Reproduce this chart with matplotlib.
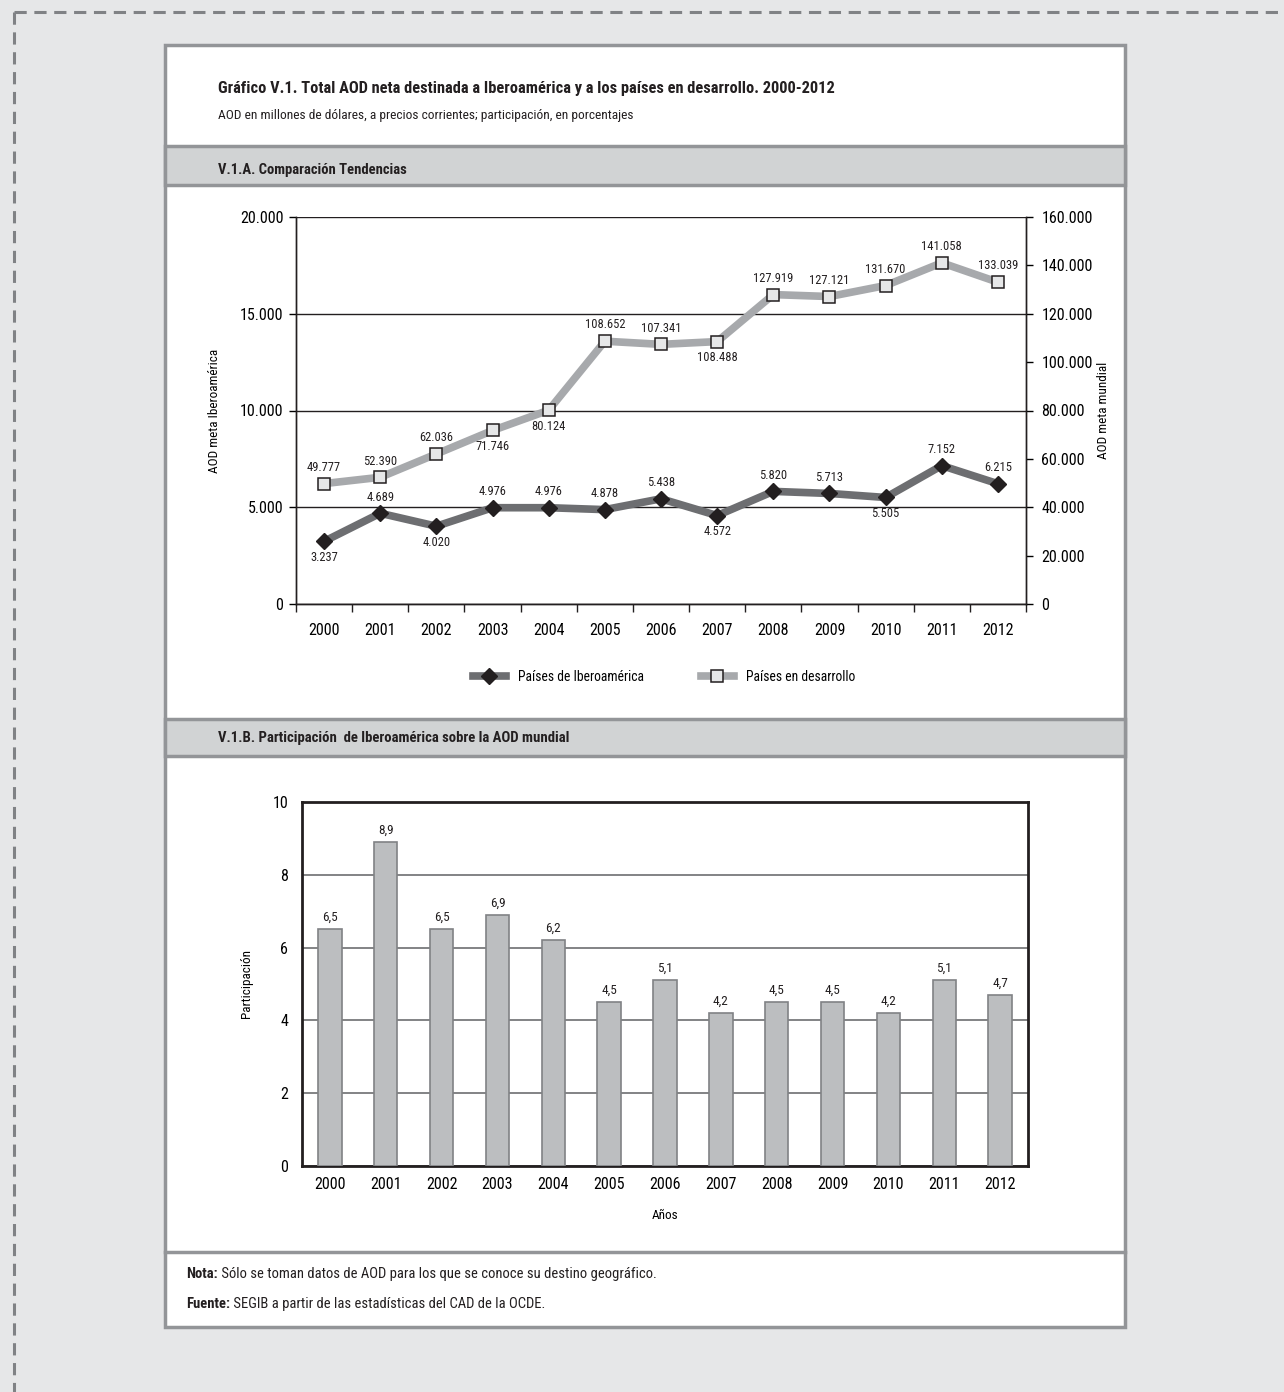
import matplotlib
matplotlib.use("Agg")
import matplotlib.pyplot as plt
from matplotlib import font_manager
from matplotlib.patches import Rectangle
from matplotlib.lines import Line2D
from matplotlib.ticker import FuncFormatter, FixedLocator

# pick a narrow font if one is installed
names = {f.name for f in font_manager.fontManager.ttflist}
narrow = [n for n in ["Roboto Condensed", "Liberation Sans Narrow", "Open Sans Condensed",
                      "DejaVu Sans Condensed", "Noto Sans Condensed"] if n in names]
plt.rcParams['font.family'] = narrow[:1] + ['DejaVu Sans']
if not narrow:
    plt.rcParams['font.stretch'] = 'condensed'

# Data
years = ["2000", "2001", "2002", "2003", "2004", "2005", "2006",
         "2007", "2008", "2009", "2010", "2011", "2012"]
aod_iberoamerica = [3237, 4689, 4020, 4976, 4976, 4878, 5438, 4572, 5820, 5713, 5505, 7152, 6215]
aod_desarrollo = [49777, 52390, 62036, 71746, 80124, 108652, 107341, 108488,
                  127919, 127121, 131670, 141058, 133039]
ibero_label_pos = ["below", "above", "below", "above", "above", "above", "above",
                   "below", "above", "above", "below", "above", "above"]
desa_label_pos = ["above", "above", "above", "below", "below", "above", "above",
                  "below", "above", "above", "above", "above", "above"]
participacion = [6.5, 8.9, 6.5, 6.9, 6.2, 4.5, 5.1, 4.2, 4.5, 4.5, 4.2, 5.1, 4.7]

W, H = 1284, 1392
fig = plt.figure(figsize=(W / 100, H / 100), dpi=100, facecolor="#e6e7e8")


def fx(x):
    return x / W


def fy(y):
    return 1 - y / H


def box(x0, y0, x1, y1):
    return [fx(x0), fy(y1), (x1 - x0) / W, (y1 - y0) / H]


def fmt_miles(v, pos=None):
    return f"{int(round(v)):,}".replace(",", ".")


# background frame (behind the axes)
fig.add_artist(Line2D([fx(14), fx(1284)], [fy(12), fy(12)], color="#808285",
                      lw=2.2, ls=(0, (4, 2.5)), zorder=-5))
fig.add_artist(Line2D([fx(14), fx(14)], [fy(12), fy(1392)], color="#808285",
                      lw=2.2, ls=(0, (4, 2.5)), zorder=-5))
fig.add_artist(Rectangle((fx(165), fy(1327)), (1125 - 165) / W, (1327 - 45) / H,
                         facecolor="white", edgecolor="#939598", lw=2.5, zorder=-5))
for y0, y1 in [(146, 185), (719, 756)]:
    fig.add_artist(Rectangle((fx(165), fy(y1)), (1125 - 165) / W, (y1 - y0) / H,
                             facecolor="#d1d3d4", edgecolor="#939598", lw=2.5, zorder=-4))
fig.add_artist(Line2D([fx(165), fx(1125)], [fy(1252), fy(1252)], color="#939598",
                      lw=2.5, zorder=-4))

# titles
fig.text(fx(218), fy(88), "Gráfico V.1. Total AOD neta destinada a Iberoamérica y a los países en desarrollo. 2000-2012",
         fontsize=11.8, fontweight="bold", color="#231f20", va="center")
fig.text(fx(218), fy(116), "AOD en millones de dólares, a precios corrientes; participación, en porcentajes",
         fontsize=9.6, color="#231f20", va="center")
fig.text(fx(218), fy(170), "V.1.A. Comparación Tendencias",
         fontsize=10.5, fontweight="bold", color="#231f20", va="center")
fig.text(fx(218), fy(738), "V.1.B. Participación  de Iberoamérica sobre la AOD mundial",
         fontsize=10.6, fontweight="bold", color="#231f20", va="center")

# ---- Chart A: lines
x = list(range(len(years)))
ax1 = fig.add_axes(box(296, 217, 1026, 604))
ax1b = ax1.twinx()
ax1.patch.set_visible(False)
ax1.set_xlim(-0.5, len(years) - 0.5)
ax1.set_ylim(0, 20000)
ax1b.set_ylim(0, 160000)
ax1.set_yticks([0, 5000, 10000, 15000, 20000])
ax1b.set_yticks(range(0, 160001, 20000))
ax1.yaxis.set_major_formatter(FuncFormatter(fmt_miles))
ax1b.yaxis.set_major_formatter(FuncFormatter(fmt_miles))
ax1.set_xticks(x)
ax1.set_xticklabels(years)
ax1.xaxis.set_minor_locator(FixedLocator([i - 0.5 for i in range(len(years) + 1)]))
ax1.tick_params(axis="x", which="major", length=0, pad=14, labelsize=11.5)
ax1.tick_params(axis="x", which="minor", length=6, width=1, color="#231f20")
ax1.tick_params(axis="y", length=5, width=1, labelsize=11.5, pad=4)
ax1b.tick_params(axis="y", length=5, width=1, labelsize=11.5, pad=6)
for a in (ax1, ax1b):
    for s in a.spines.values():
        s.set_color("#231f20")
        s.set_linewidth(1)
    a.spines["top"].set_visible(False)
ax1.yaxis.grid(True, color="#231f20", lw=1)
ax1.set_axisbelow(True)
ax1.set_ylabel("AOD meta Iberoamérica", fontsize=9.5, labelpad=14)
ax1b.set_ylabel("AOD meta mundial", fontsize=9.5, labelpad=3)

ax1b.plot(x, aod_desarrollo, color="#a7a9ac", lw=5.5, marker="s", markersize=8.5,
          markerfacecolor="#e6e7e8", markeredgecolor="#231f20", markeredgewidth=1.1,
          label="Países en desarrollo", zorder=3)
ax1.plot(x, aod_iberoamerica, color="#6d6e71", lw=5.5, marker="D", markersize=8.5,
         markerfacecolor="#231f20", markeredgecolor="#231f20",
         label="Países de Iberoamérica", zorder=3)

for xi, v, p in zip(x, aod_iberoamerica, ibero_label_pos):
    off = 7 if p == "above" else -7
    ax1.annotate(fmt_miles(v), (xi, v), xytext=(0, off), textcoords="offset points",
                 ha="center", va="bottom" if p == "above" else "top",
                 fontsize=9, color="#231f20")
for xi, v, p in zip(x, aod_desarrollo, desa_label_pos):
    off = 7 if p == "above" else -7
    ax1b.annotate(fmt_miles(v), (xi, v), xytext=(0, off), textcoords="offset points",
                  ha="center", va="bottom" if p == "above" else "top",
                  fontsize=9, color="#231f20")

h1, l1 = ax1.get_legend_handles_labels()
h2, l2 = ax1b.get_legend_handles_labels()
fig.legend(h1 + h2, l1 + l2, loc="center", bbox_to_anchor=(fx(664), fy(677)), ncol=2,
           frameon=False, fontsize=9.8, handlelength=2.4, handletextpad=0.9,
           columnspacing=4.2)

# ---- Chart B: bars
ax2 = fig.add_axes(box(302, 802, 1028, 1166))
ax2.bar(x, participacion, width=0.42, color="#bcbec0", edgecolor="#808285", lw=1.2, zorder=3)
ax2.set_xlim(-0.5, len(years) - 0.5)
ax2.set_ylim(0, 10)
ax2.set_yticks(range(0, 11, 2))
ax2.set_xticks(x)
ax2.set_xticklabels(years)
ax2.tick_params(axis="both", length=0, labelsize=11.5)
ax2.tick_params(axis="x", pad=8)
ax2.tick_params(axis="y", pad=10)
ax2.yaxis.grid(True, color="#6d6e71", lw=1.2)
ax2.set_axisbelow(True)
for s in ax2.spines.values():
    s.set_color("#231f20")
    s.set_linewidth(2)
for xi, v in zip(x, participacion):
    ax2.annotate(f"{v:.1f}".replace(".", ","), (xi, v), xytext=(0, 4),
                 textcoords="offset points", ha="center", va="bottom",
                 fontsize=9.5, color="#231f20")
ax2.set_ylabel("Participación", fontsize=9.5, labelpad=14)
ax2.set_xlabel("Años", fontsize=9.5, labelpad=12)

# ---- Notes
fig.canvas.draw()
r = fig.canvas.get_renderer()
for y, bold, rest in [(1274, "Nota:", " Sólo se toman datos de AOD para los que se conoce su destino geográfico."),
                      (1304, "Fuente:", " SEGIB a partir de las estadísticas del CAD de la OCDE.")]:
    t = fig.text(fx(186), fy(y), bold, fontsize=10.5, fontweight="bold", color="#231f20", va="center")
    bb = t.get_window_extent(renderer=r)
    fig.text(bb.x1 / W, fy(y), rest, fontsize=10.5, color="#231f20", va="center")

fig.savefig("out.png", dpi=100, facecolor=fig.get_facecolor())
